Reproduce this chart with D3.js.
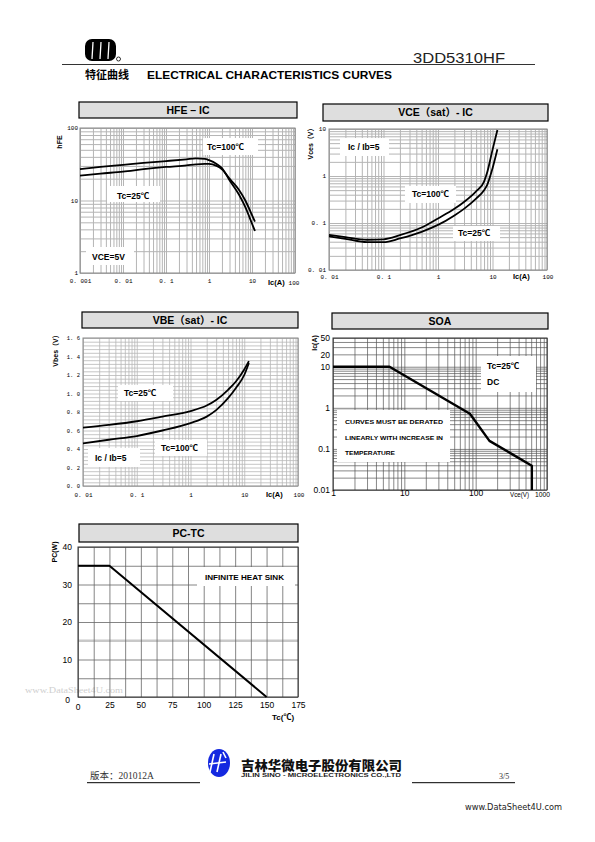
<!DOCTYPE html>
<html><head><meta charset="utf-8">
<script src="https://cdn.jsdelivr.net/npm/d3@7"></script>
<style>body{margin:0;background:#fff}svg{display:block}</style>
</head><body><script>
// ---------------- DATA ----------------
const hfeIc  = [0.001,0.003,0.01,0.03,0.1,0.3,0.5,0.8,1,1.5,2,3,5,7,10,11.7];
const hfe100 = [27,29,31,33,35,37,38,37.5,36,32,28,19,12,8.1,4.8,3.8];
const hfe25  = [22,23.5,25,27,29,30.5,31.5,32,32,30,27,20,14,10,6.3,5.1];

const vceIc  = [0.01,0.02,0.05,0.1,0.2,0.5,1,2,3,5,7,8,10,12.3];
const vce100 = [0.056,0.05,0.044,0.045,0.055,0.08,0.125,0.2,0.28,0.47,0.76,1.2,3.6,9.5];
const vce25  = [0.052,0.046,0.039,0.039,0.047,0.065,0.091,0.145,0.2,0.33,0.5,0.65,1.45,3.7];

const vbeIc  = [0.01,0.03,0.1,0.3,1,2,3,5,7,10,12.2];
const vbe25  = [0.63,0.66,0.70,0.75,0.81,0.87,0.93,1.04,1.13,1.26,1.35];
const vbe100 = [0.46,0.50,0.54,0.60,0.68,0.75,0.82,0.95,1.06,1.20,1.33];

const soaVce = [1,6.2,83,156,613,613];
const soaIc  = [10,10,0.72,0.157,0.039,0.01];

const pcTc = [0,25,150];
const pcPc = [35,35,0];

const hfeXTicks = [0.001,0.01,0.1,1,10,100];
const hfeXLabels = ["0. 001","0. 01","0. 1","1","10","100"];
const hfeYTicks = [1,10,100];
const hfeYLabels = ["1","10","100"];
const vceXTicks = [0.01,0.1,1,10,100];
const vceXLabels = ["0. 01","0. 1","1","10","100"];
const vceYTicks = [0.01,0.1,1,10];
const vceYLabels = ["0. 01","0. 1","1","10"];
const vbeXTicks = [0.01,0.1,1,10,100];
const vbeXLabels = ["0. 01","0. 1","1","10","100"];
const vbeYTicks = [0,0.2,0.4,0.6,0.8,1.0,1.2,1.4,1.6];
const vbeYLabels = ["0. 0","0. 2","0. 4","0. 6","0. 8","1. 0","1. 2","1. 4","1. 6"];
const soaXTicks = [1,10,100,1000];
const soaXLabels = ["1","10","100","1000"];
const soaYTicks = [0.01,0.1,1,10,20,50];
const soaYLabels = ["0.01","0.1","1","10","20","50"];
const pcXTicks = [0,25,50,75,100,125,150,175];
const pcYTicks = [0,10,20,30,40];

// ---------------- SETUP ----------------
const W=595,H=842;
const svg=d3.select("body").append("svg").attr("width",W).attr("height",H);
svg.append("rect").attr("width",W).attr("height",H).attr("fill","#fff");
const SANS='"Liberation Sans","Noto Sans CJK SC",Arial,sans-serif';
const MONO='"Liberation Mono","DejaVu Sans Mono",monospace';
const CJK='"Noto Sans CJK SC","Liberation Sans",sans-serif';

function titleBox(x0,y0,x1,y1,text){
  svg.append("rect").attr("x",x0).attr("y",y0).attr("width",x1-x0).attr("height",y1-y0)
    .attr("fill","#dedede").attr("stroke","#000").attr("stroke-width",1.2);
  svg.append("text").attr("x",(x0+x1)/2).attr("y",(y0+y1)/2+3.6).attr("text-anchor","middle")
    .attr("font-family",SANS).attr("font-weight","bold").attr("font-size",10.5).text(text);
}
function grid(x,y,xv,yv,color,w){
  const g=svg.append("g");
  const [yb,yt]=y.range(), [xl,xr]=x.range();
  g.append("g").attr("transform",`translate(0,${yb})`)
    .call(d3.axisBottom(x).tickValues(xv).tickSize(-(yb-yt)).tickFormat(""))
    .call(s=>{s.select(".domain").remove();s.selectAll("line").attr("stroke",color).attr("stroke-width",w);});
  g.append("g").attr("transform",`translate(${xl},0)`)
    .call(d3.axisLeft(y).tickValues(yv).tickSize(-(xr-xl)).tickFormat(""))
    .call(s=>{s.select(".domain").remove();s.selectAll("line").attr("stroke",color).attr("stroke-width",w);});
  return g;
}
function frame(x,y,color,w){
  const [xl,xr]=x.range(),[yb,yt]=y.range();
  svg.append("rect").attr("x",xl).attr("y",yt).attr("width",xr-xl).attr("height",yb-yt)
    .attr("fill","none").attr("stroke",color).attr("stroke-width",w);
}
function xLabels(x,yPos,vals,labels,font,size,pad){
  svg.append("g").attr("transform",`translate(0,${yPos})`)
    .call(d3.axisBottom(x).tickValues(vals).tickSize(0).tickPadding(pad).tickFormat((d,i)=>labels[i]))
    .call(s=>{s.select(".domain").remove();s.selectAll("text").attr("font-family",font).attr("font-size",size).attr("fill","#000");});
}
function yLabels(y,xPos,vals,labels,font,size,pad){
  svg.append("g").attr("transform",`translate(${xPos},0)`)
    .call(d3.axisLeft(y).tickValues(vals).tickSize(0).tickPadding(pad).tickFormat((d,i)=>labels[i]))
    .call(s=>{s.select(".domain").remove();s.selectAll("text").attr("font-family",font).attr("font-size",size).attr("fill","#000");});
}
function whiteBox(x0,y0,x1,y1){
  svg.append("rect").attr("x",x0).attr("y",y0).attr("width",x1-x0).attr("height",y1-y0).attr("fill","#fff");
}
function txt(s,x,y,size,opts={}){
  const t=svg.append("text").attr("x",x).attr("y",y).attr("font-family",opts.font||SANS)
    .attr("font-size",size).attr("font-weight",opts.weight||"bold").attr("fill",opts.fill||"#000").text(s);
  if(opts.anchor) t.attr("text-anchor",opts.anchor);
  if(opts.len) t.attr("textLength",opts.len).attr("lengthAdjust","spacingAndGlyphs");
  if(opts.rotate) t.attr("transform",`rotate(-90,${x},${y})`);
  return t;
}
function curve(x,y,xs,ys,w,curveType){
  const line=d3.line().x((d,i)=>x(xs[i])).y((d,i)=>y(ys[i])).curve(curveType||d3.curveMonotoneX);
  svg.append("path").attr("d",line(xs)).attr("fill","none").attr("stroke","#000")
    .attr("stroke-width",w).attr("stroke-linejoin","round");
}

// ---------------- HEADER ----------------
svg.append("rect").attr("x",85).attr("y",39).attr("width",31).attr("height",22).attr("rx",7).attr("fill","#000");
[93,101,109].forEach(xx=>svg.append("line").attr("x1",xx).attr("y1",42).attr("x2",xx-1).attr("y2",59).attr("stroke","#fff").attr("stroke-width",1.3));
svg.append("circle").attr("cx",118.5).attr("cy",59).attr("r",2).attr("fill","none").attr("stroke","#000").attr("stroke-width",0.8);
txt("3DD5310HF",413,63,14.5,{weight:"normal",len:92,fill:"#222"});
svg.append("line").attr("x1",62).attr("y1",64.5).attr("x2",535).attr("y2",64.5).attr("stroke","#333").attr("stroke-width",1);
txt("特征曲线",85,79,11,{font:CJK});
txt("ELECTRICAL CHARACTERISTICS CURVES",147,79,11,{len:245});

// ---------------- HFE - IC ----------------
{
  titleBox(79,102,297,118,"HFE – IC");
  const x=d3.scaleLog().domain([0.001,100]).range([80,295]);
  const y=d3.scaleLog().domain([1,100]).range([273,128]);
  grid(x,y,x.ticks(),y.ticks(),"#b5b5b5",1);
  frame(x,y,"#888",1);
  whiteBox(203,138,258,155); whiteBox(107,186,160,202); whiteBox(86,247,134,265);
  curve(x,y,hfeIc,hfe100,1.8); curve(x,y,hfeIc,hfe25,1.8);
  txt("Tc=100℃",207,150,8.5); txt("Tc=25℃",117,199,8.5); txt("VCE=5V",92,260,8.5);
  xLabels(x,276,hfeXTicks.slice(0,5),hfeXLabels.slice(0,5),MONO,6,3);
  txt(hfeXLabels[5],x(100)-1,285,6,{font:MONO,weight:"normal",anchor:"middle"});
  txt("Ic(A)",268,285,7.5);
  yLabels(y,78,hfeYTicks,hfeYLabels,MONO,6,0);
  txt("hFE",62,142,7,{rotate:true,anchor:"middle"});
}

// ---------------- VCE(sat) - IC ----------------
{
  titleBox(323,104,548,121,"VCE（sat）- IC");
  const x=d3.scaleLog().domain([0.01,100]).range([329,547]);
  const y=d3.scaleLog().domain([0.01,10]).range([270,129]);
  grid(x,y,x.ticks(),y.ticks(),"#b5b5b5",1);
  frame(x,y,"#888",1);
  whiteBox(340,138,389,156); whiteBox(405,186,456,203); whiteBox(453,226,500,241);
  curve(x,y,vceIc,vce100,1.8); curve(x,y,vceIc,vce25,1.8);
  txt("Ic / Ib=5",348,150,8.5); txt("Tc=100℃",412,197,8.5); txt("Tc=25℃",458,236,8.5);
  xLabels(x,272,vceXTicks.slice(0,4),vceXLabels.slice(0,4),MONO,6,3);
  txt(vceXLabels[4],x(100)+1,279,6,{font:MONO,weight:"normal",anchor:"middle"});
  txt("Ic(A)",513,279,7.5);
  yLabels(y,326,vceYTicks,vceYLabels,MONO,6,0);
  txt("Vces（V）",313,142,7,{rotate:true,anchor:"middle"});
}

// ---------------- VBE(sat) - IC ----------------
{
  titleBox(82,312,298,328,"VBE（sat）- IC");
  const x=d3.scaleLog().domain([0.01,100]).range([83,298]);
  const y=d3.scaleLinear().domain([0,1.6]).range([486,338]);
  grid(x,y,x.ticks(),d3.range(0,1.6001,0.04),"#b8b8b8",0.8);
  frame(x,y,"#888",1);
  whiteBox(118,385,173,401); whiteBox(155,440,207,456); whiteBox(88,448,140,467);
  curve(x,y,vbeIc,vbe25,1.8); curve(x,y,vbeIc,vbe100,1.8);
  txt("Tc=25℃",124,396,8.5); txt("Tc=100℃",161,451,8.5); txt("Ic / Ib=5",95,461,8.5);
  xLabels(x,490,vbeXTicks.slice(0,4),vbeXLabels.slice(0,4),MONO,6,3);
  txt(vbeXLabels[4],x(100)+1,497,6,{font:MONO,weight:"normal",anchor:"middle"});
  txt("Ic(A)",266,497,7.5);
  yLabels(y,80,vbeYTicks,vbeYLabels,MONO,5.5,0);
  txt("Vbes（V）",58,349,7,{rotate:true,anchor:"middle"});
}

// ---------------- SOA ----------------
{
  titleBox(332,313,548,329,"SOA");
  const x=d3.scaleLog().domain([1,1000]).range([333,547]);
  const y=d3.scaleLog().domain([0.01,50]).range([490,338]);
  grid(x,y,x.ticks(),y.ticks(),"#555",0.7);
  frame(x,y,"#333",1);
  whiteBox(337,410,450,462); whiteBox(481,356,536,392);
  curve(x,y,soaVce,soaIc,2.4,d3.curveLinear);
  txt("Tc=25℃",487,369,8.5); txt("DC",487,385,8.5);
  txt("CURVES  MUST  BE  DERATED",345,424,6,{len:98});
  txt("LINEARLY WITH INCREASE IN",345,440,6,{len:98});
  txt("TEMPERATURE",345,455,6,{len:50});
  xLabels(x,489,soaXTicks.slice(0,3),soaXLabels.slice(0,3),SANS,8.5,1);
  txt(soaXLabels[3],550,497,8,{weight:"normal",anchor:"end",len:15});
  txt("Vce(V)",510,497,7.5,{weight:"normal",len:19});
  yLabels(y,330,soaYTicks,soaYLabels,SANS,8.5,0);
  txt("Ic(A)",317,343,7,{rotate:true,anchor:"middle"});
}

// ---------------- PC - TC ----------------
{
  txt("www.DataSheet4U.com",25,693,8.5,{font:'"Liberation Serif",serif',weight:"normal",fill:"#cfcfcf",len:98});
  titleBox(79,524,298,542,"PC-TC");
  const x=d3.scaleLinear().domain([0,175]).range([78,298]);
  const y=d3.scaleLinear().domain([0,40]).range([697,547]);
  svg.append("line").attr("x1",x(0)).attr("x2",x(175)).attr("y1",y(15)).attr("y2",y(15)).attr("stroke","#c8c8c8").attr("stroke-width",2.5);
  grid(x,y,d3.range(0,175.01,12.5),d3.range(0,40.01,5).filter(v=>v!==15),"#666",0.8);
  frame(x,y,"#333",1);
  whiteBox(197,567,295,586);
  curve(x,y,pcTc,pcPc,2,d3.curveLinear);
  txt("INFINITE HEAT SINK",205,580,7,{len:79});
  xLabels(x,700,pcXTicks.slice(1),pcXTicks.slice(1).map(String),SANS,8.5,2);
  txt(String(pcXTicks[0]),x(0),710,8.5,{weight:"normal",anchor:"middle"});
  yLabels(y,72,pcYTicks.slice(1),pcYTicks.slice(1).map(String),SANS,8.5,0);
  txt(String(pcYTicks[0]),70,703,8.5,{weight:"normal",anchor:"end"});
  txt("Tc(℃)",272,720,8);
  txt("PC(W)",57,552,7,{rotate:true,anchor:"middle"});
}

// ---------------- FOOTER ----------------
txt("版本：201012A",90,779,9.5,{font:'"Liberation Serif","Noto Sans CJK SC",serif',weight:"normal",fill:"#333"});
svg.append("line").attr("x1",87).attr("x2",200).attr("y1",782.7).attr("y2",782.7).attr("stroke","#000").attr("stroke-width",1);
svg.append("line").attr("x1",412).attr("x2",515).attr("y1",782.7).attr("y2",782.7).attr("stroke","#000").attr("stroke-width",1);
svg.append("ellipse").attr("cx",219).attr("cy",763).attr("rx",11).attr("ry",14).attr("fill","#1428e0");
[[214,754,210,772],[221,754,217,772],[223,752,226,758],[209,764,226,762]].forEach(l=>
  svg.append("line").attr("x1",l[0]).attr("y1",l[1]).attr("x2",l[2]).attr("y2",l[3]).attr("stroke","#fff").attr("stroke-width",1.6));
txt("吉林华微电子股份有限公司",241,770,13,{font:CJK,weight:900,len:161,fill:"#111"});
txt("JILIN  SINO - MICROELECTRONICS   CO.,LTD",241,776.5,4.5,{len:160,fill:"#222"});
txt("3/5",499,779,8,{font:'"Liberation Serif",serif',weight:"normal",fill:"#333"});
txt("www.DataSheet4U.com",465,810,9,{font:'"DejaVu Sans",sans-serif',weight:"normal",len:97,fill:"#222"});
</script></body></html>
